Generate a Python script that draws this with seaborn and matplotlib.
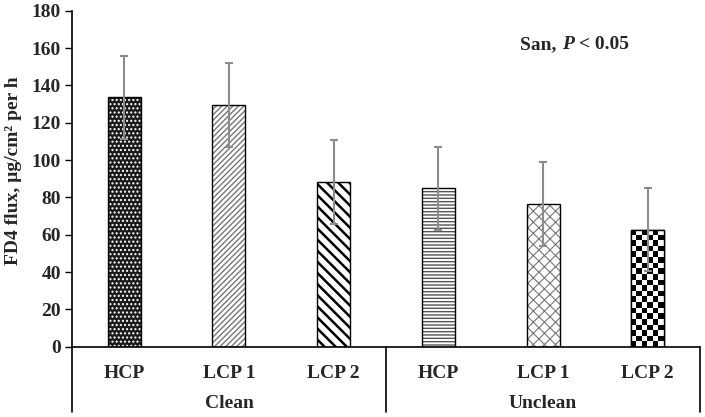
import matplotlib
matplotlib.use('Agg')
import matplotlib.pyplot as plt
import numpy as np
import pandas as pd
import seaborn as sns
from matplotlib.patches import Rectangle
from matplotlib.transforms import blended_transform_factory

# values
groups = ['Clean', 'Clean', 'Clean', 'Unclean', 'Unclean', 'Unclean']
treatments = ['HCP', 'LCP 1', 'LCP 2', 'HCP', 'LCP 1', 'LCP 2']
flux = [133.6, 129.5, 88.1, 84.9, 76.4, 62.7]
flux_err = [22.3, 22.3, 22.5, 22.2, 22.4, 22.3]
group_names = ['Clean', 'Unclean']
y_ticks = [0, 20, 40, 60, 80, 100, 120, 140, 160, 180]

# fill, hatch, hatch colour, hatch width for each bar
bar_styles = [
    ('#1a1a1a', '....', 'white', 1.0),
    ('white', '//////', '#777777', 1.0),
    ('white', '\\\\\\', 'black', 1.8),
    ('white', '-----', '#555555', 1.0),
    ('white', 'xxx', '#777777', 0.8),
    ('white', None, None, 1.0),
]

sns.set_style('white')
plt.rcParams['font.family'] = ['Liberation Serif', 'DejaVu Serif']
plt.rcParams['font.weight'] = 'bold'

data = pd.DataFrame({'group': groups, 'treatment': treatments, 'flux': flux})
data['key'] = data['group'] + ' ' + data['treatment']

fig = plt.figure(figsize=(7.05, 4.17), dpi=100)
ax = fig.add_axes([0.102, 0.1686, 0.891, 0.8058])

sns.barplot(data=data, x='key', y='flux', color='white', width=0.315,
            edgecolor='black', linewidth=1.0, errorbar=None, ax=ax, saturation=1)

bars = list(ax.patches)
for patch, (face, hatch, hcolor, hwidth) in zip(bars, bar_styles):
    patch.set_facecolor(face)
    if hatch is not None:
        patch.set_hatch(hatch)
        patch.set_edgecolor(hcolor)
        patch.set_linewidth(0)
        if hasattr(patch, 'set_hatch_linewidth'):
            patch.set_hatch_linewidth(hwidth)
    outline = Rectangle((patch.get_x(), patch.get_y()), patch.get_width(), patch.get_height(),
                        fill=False, edgecolor='black', linewidth=1.0, zorder=patch.get_zorder() + 0.1)
    ax.add_patch(outline)

ax.set_xlim(-0.5, 5.5)
ax.set_ylim(0, 180)

# checkerboard texture for the last bar
fig.canvas.draw()
last = bars[-1]
w_px = ax.transData.transform((last.get_width(), 0))[0] - ax.transData.transform((0, 0))[0]
h_px = ax.transData.transform((0, last.get_height()))[1] - ax.transData.transform((0, 0))[1]
n_cols = 6
n_rows = int(round(h_px / (w_px / n_cols)))
checker = (np.indices((n_rows, n_cols)).sum(axis=0) % 2).astype(float)
img = ax.imshow(checker, cmap='gray', aspect='auto', interpolation='nearest',
                extent=(last.get_x(), last.get_x() + last.get_width(), 0, last.get_height()),
                zorder=last.get_zorder() + 0.05)
img.set_clip_path(last)
ax.set_xlim(-0.5, 5.5)
ax.set_ylim(0, 180)

x_pos = np.arange(len(flux))
ax.errorbar(x_pos, flux, yerr=flux_err, fmt='none', ecolor='#8c8c8c',
            elinewidth=1.5, capsize=3, capthick=1.5, zorder=5)

ax.set_yticks(y_ticks)
ax.set_yticklabels([str(v) for v in y_ticks], fontsize=14, fontweight='bold')
ax.tick_params(axis='y', direction='out', length=5, width=1, color='black', pad=3, left=True)
ax.tick_params(axis='x', length=0, pad=13)
ax.set_xticks(x_pos)
ax.set_xticklabels(treatments, fontsize=14, fontweight='bold')
ax.set_xlabel('')
ax.set_ylabel('FD4 flux, µg/cm² per h', fontsize=14, fontweight='bold')
ax.yaxis.set_label_coords(-0.08, 0.525)

for side in ['top', 'right']:
    ax.spines[side].set_visible(False)
for side in ['left', 'bottom']:
    ax.spines[side].set_color('black')
    ax.spines[side].set_linewidth(1.2)

# group separators below the axis
trans = blended_transform_factory(ax.transData, ax.transAxes)
for xv in [-0.5, 2.5, 5.5]:
    ax.plot([xv, xv], [0, -0.195], color='black', linewidth=1.2, transform=trans, clip_on=False)
for i, name in enumerate(group_names):
    ax.text(1 + 3 * i, -0.168, name, transform=trans, ha='center', va='center',
            fontsize=14, fontweight='bold')

# significance note
t1 = ax.text(0.714, 0.9, 'San, ', transform=ax.transAxes, ha='left', va='center',
             fontsize=14, fontweight='bold')
t2 = ax.annotate('P', xy=(1, 0), xycoords=t1, va='bottom', ha='left',
                 fontsize=14, fontweight='bold', fontstyle='italic')
ax.annotate(' < 0.05', xy=(1, 0), xycoords=t2, va='bottom', ha='left',
            fontsize=14, fontweight='bold')

fig.savefig('out.png', dpi=100)
